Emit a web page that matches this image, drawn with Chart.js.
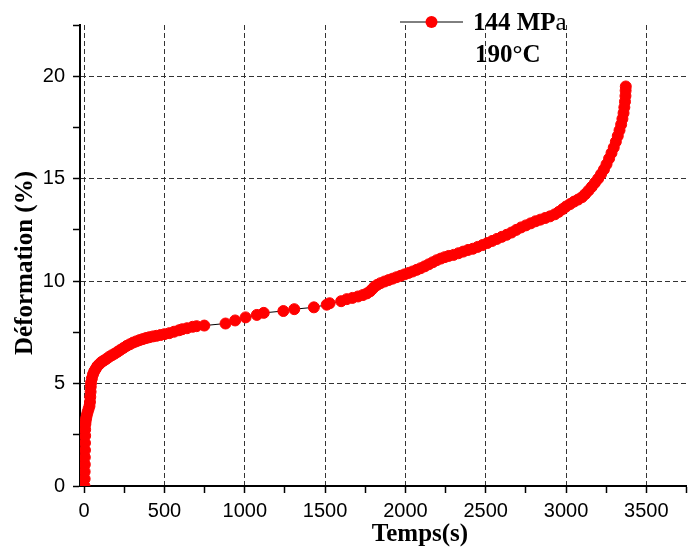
<!DOCTYPE html>
<html>
<head>
<meta charset="utf-8">
<script src="https://cdn.jsdelivr.net/npm/chart.js@4.4.0/dist/chart.umd.min.js"></script>
<style>
  html, body { margin: 0; padding: 0; background: #fff; }
</style>
</head>
<body>
<canvas id="creepChart" width="693" height="550"></canvas>
<script>
/* ===== Data ===== */
const seriesLabel = "144 MPa";
const tempLabel = "190°C";

const timeS = [
  2, 3, 3, 4, 4, 5, 5, 6, 6, 7, 9, 12, 16, 21, 27, 33, 36, 38, 40, 41,
  43, 48, 55, 63, 72, 82, 95, 108, 122, 138, 155, 172, 190, 208, 225, 245, 265, 285, 305, 325,
  345, 365, 385, 405, 428, 450, 475, 500, 530, 560, 590, 610, 640, 675, 700, 748,
  880, 940, 1005, 1075, 1118, 1240, 1308, 1430, 1510, 1528, 1600, 1635,
  1670, 1705, 1735, 1760, 1780, 1795, 1808, 1825, 1845, 1870, 1895, 1920, 1945, 1970, 1995,
  2020, 2045, 2070, 2095, 2120, 2145, 2170, 2195, 2220, 2245, 2270, 2300, 2330, 2360, 2390,
  2420, 2450, 2480, 2510, 2540, 2570, 2600, 2630, 2660, 2690, 2720, 2750, 2780, 2810, 2840,
  2870, 2900, 2930, 2955, 2980, 3000, 3025, 3050, 3075, 3100, 3120, 3140, 3160, 3180, 3200,
  3218, 3236, 3252, 3268, 3283, 3297, 3310, 3322, 3333, 3343, 3351, 3358, 3363, 3367, 3370,
  3371, 3372
];

const deformationPct = [
  0, 0.35, 0.7, 1.05, 1.4, 1.75, 2.1, 2.45, 2.75, 3.0, 3.15, 3.3, 3.45, 3.6, 3.75, 3.9, 4.1, 4.35, 4.6, 4.85,
  5.05, 5.25, 5.45, 5.6, 5.72, 5.85, 5.95, 6.05, 6.12, 6.2, 6.3, 6.38, 6.46, 6.55, 6.64, 6.74, 6.84, 6.92, 7.0, 7.06,
  7.12, 7.17, 7.22, 7.26, 7.3, 7.33, 7.37, 7.41, 7.46, 7.53, 7.6, 7.65, 7.7, 7.77, 7.8, 7.83,
  7.93, 8.08, 8.23, 8.35, 8.45, 8.54, 8.63, 8.72, 8.85, 8.92, 9.02, 9.12,
  9.18, 9.25, 9.32, 9.4, 9.5, 9.62, 9.73, 9.82, 9.9, 9.98, 10.05, 10.12, 10.19, 10.26, 10.33,
  10.4, 10.47, 10.55, 10.63, 10.72, 10.82, 10.92, 11.02, 11.1, 11.17, 11.23, 11.28, 11.36, 11.44, 11.52,
  11.58, 11.67, 11.76, 11.86, 11.96, 12.06, 12.16, 12.26, 12.37, 12.5, 12.62, 12.72, 12.82, 12.92, 13.0,
  13.08, 13.16, 13.26, 13.38, 13.52, 13.64, 13.76, 13.88, 13.98, 14.1, 14.25, 14.42, 14.6, 14.8, 15.0,
  15.22, 15.45, 15.7, 15.98, 16.25, 16.52, 16.8, 17.08, 17.36, 17.64, 17.92, 18.2, 18.48, 18.76, 19.04,
  19.3, 19.5
];

const xTickValues = [0, 250, 500, 750, 1000, 1250, 1500, 1750, 2000, 2250, 2500, 2750, 3000, 3250, 3500, 3750];
const yTickValues = [0, 2.5, 5, 7.5, 10, 12.5, 15, 17.5, 20, 22.5];

/* ===== Helpers ===== */
const RED = "#ff0000";
const GRID = "#333333";

function isMajor(value, step) {
  return Math.abs(value % step) < 1e-9;
}

/* titles + legend drawn as canvas text */
const annotations = {
  id: "annotations",
  afterDraw(chart) {
    const ctx = chart.ctx;
    ctx.save();
    ctx.fillStyle = "#000";

    // x title
    ctx.font = "bold 25px 'Liberation Serif', 'Times New Roman', serif";
    ctx.textAlign = "center";
    ctx.textBaseline = "alphabetic";
    ctx.fillText("Temps(s)", 420, 541);

    // y title
    ctx.save();
    ctx.translate(32, 263);
    ctx.rotate(-Math.PI / 2);
    ctx.fillText("Déformation (%)", 0, 0);
    ctx.restore();

    // legend sample
    ctx.strokeStyle = "#000";
    ctx.lineWidth = 1;
    ctx.beginPath();
    ctx.moveTo(400, 22);
    ctx.lineTo(463, 22);
    ctx.stroke();
    ctx.fillStyle = RED;
    ctx.beginPath();
    ctx.arc(431.5, 22, 6, 0, Math.PI * 2);
    ctx.fill();

    // legend text
    ctx.fillStyle = "#000";
    ctx.textAlign = "left";
    const head = seriesLabel.slice(0, -1);
    ctx.font = "bold 25px 'Liberation Serif', 'Times New Roman', serif";
    ctx.fillText(head, 473, 30);
    const w = ctx.measureText(head).width;
    ctx.font = "25px 'Liberation Serif', 'Times New Roman', serif";
    ctx.fillText(seriesLabel.slice(-1), 473 + w, 30);
    ctx.font = "bold 25px 'Liberation Serif', 'Times New Roman', serif";
    ctx.fillText(tempLabel, 475, 62);
    ctx.restore();
  },
};

/* ===== Chart ===== */
const points = timeS.map((t, i) => ({ x: t, y: deformationPct[i] }));

const tickFont = { family: "'Liberation Sans', Arial, sans-serif", size: 20 };

new Chart(document.getElementById("creepChart"), {
  type: "scatter",
  data: {
    datasets: [
      {
        label: seriesLabel,
        data: points,
        showLine: true,
        borderColor: "#000",
        borderWidth: 1,
        pointRadius: 5.5,
        pointBorderWidth: 1,
        pointBackgroundColor: RED,
        pointBorderColor: RED,
        tension: 0,
      },
    ],
  },
  options: {
    responsive: false,
    animation: false,
    devicePixelRatio: 1,
    layout: { padding: { top: 25, right: 3, bottom: 0, left: 0 } },
    plugins: { legend: { display: false }, tooltip: { enabled: false } },
    scales: {
      x: {
        type: "linear",
        min: -26,
        max: 3750,
        afterBuildTicks: (scale) => { scale.ticks = xTickValues.map((v) => ({ value: v })); },
        afterFit: (scale) => { scale.height = 64; },
        border: { display: true, color: "#000", width: 2, dash: [5, 3] },
        grid: {
          color: (c) => (c.tick && isMajor(c.tick.value, 500) ? GRID : "rgba(0,0,0,0)"),
          lineWidth: 1,
          drawTicks: true,
          tickLength: 7,
          tickColor: "#000",
          tickWidth: 1.5,
          tickBorderDash: [],
        },
        ticks: {
          color: "#000",
          font: tickFont,
          padding: 6,
          maxRotation: 0,
          autoSkip: false,
          callback: (v) => (isMajor(v, 500) ? String(v) : ""),
        },
      },
      y: {
        type: "linear",
        min: 0,
        max: 22.5,
        afterBuildTicks: (scale) => { scale.ticks = yTickValues.map((v) => ({ value: v })); },
        afterFit: (scale) => { scale.width = 80; },
        border: { display: true, color: "#000", width: 2, dash: [5, 3] },
        grid: {
          color: (c) => (c.tick && isMajor(c.tick.value, 5) && c.tick.value > 0 ? GRID : "rgba(0,0,0,0)"),
          lineWidth: 1,
          drawTicks: true,
          tickLength: 7,
          tickColor: "#000",
          tickWidth: 1.5,
          tickBorderDash: [],
        },
        ticks: {
          color: "#000",
          font: tickFont,
          padding: 8,
          autoSkip: false,
          callback: (v) => (isMajor(v, 5) ? String(v) : ""),
        },
      },
    },
  },
  plugins: [annotations],
});
</script>
</body>
</html>
